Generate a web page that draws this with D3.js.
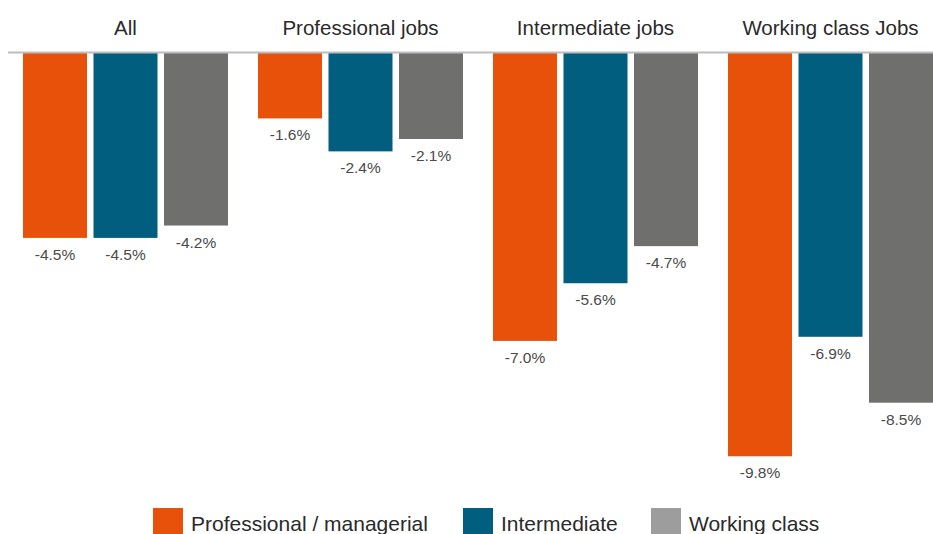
<!DOCTYPE html>
<html lang="en">
<head>
    <meta charset="UTF-8">
    <title>Change by job type</title>
    <style>
        body { margin: 0; background: #fff; }
        svg { display: block; font-family: "Liberation Sans", Arial, sans-serif; }
        .group-title { font-size: 20.5px; fill: #2a2a2a; text-anchor: middle; }
        .value-label { font-size: 15.5px; fill: #4a4a4a; text-anchor: middle; }
        .legend-text { font-size: 21px; fill: #2a2a2a; }
    </style>
    <script src="https://cdn.jsdelivr.net/npm/d3@7"></script>
</head>
<body>
<script>
    const groups = ["All", "Professional jobs", "Intermediate jobs", "Working class Jobs"];
    const series = ["Professional / managerial", "Intermediate", "Working class"];
    const barColors = ["#e8510a", "#025e7e", "#6f6f6d"];
    const legendColors = ["#e8510a", "#025e7e", "#9d9d9d"];

    // values in %, one array per series, in group order
    const professionalValues = [-4.5, -1.6, -7.0, -9.8];
    const intermediateValues = [-4.5, -2.4, -5.6, -6.9];
    const workingValues = [-4.2, -2.1, -4.7, -8.5];

    const width = 933, height = 534;
    const baseline = 52.5;

    const svg = d3.select("body").append("svg")
        .attr("width", width)
        .attr("height", height);

    const x0 = d3.scaleBand().domain(groups).range([8, 948]);
    const x1 = d3.scaleBand().domain(series).range([15, 220]).paddingInner(0.092);
    const y = d3.scaleLinear().domain([0, -10]).range([baseline, baseline + 412]);

    const rows = [];
    [professionalValues, intermediateValues, workingValues].forEach((vals, si) => {
        vals.forEach((v, gi) => rows.push({ group: groups[gi], series: series[si], si: si, value: v }));
    });

    // group titles
    svg.append("g").selectAll("text")
        .data(groups)
        .enter().append("text")
        .attr("class", "group-title")
        .attr("x", d => x0(d) + x0.bandwidth() / 2)
        .attr("y", 35)
        .text(d => d);

    // bars
    svg.append("g").selectAll("rect")
        .data(rows)
        .enter().append("rect")
        .attr("x", d => x0(d.group) + x1(d.series))
        .attr("y", y(0))
        .attr("width", x1.bandwidth())
        .attr("height", d => y(d.value) - y(0))
        .attr("fill", d => barColors[d.si]);

    // baseline
    svg.append("line")
        .attr("x1", 8).attr("x2", width)
        .attr("y1", y(0)).attr("y2", y(0))
        .attr("stroke", "#bdbdbd")
        .attr("stroke-width", 2);

    // value labels
    svg.append("g").selectAll("text")
        .data(rows)
        .enter().append("text")
        .attr("class", "value-label")
        .attr("x", d => x0(d.group) + x1(d.series) + x1.bandwidth() / 2)
        .attr("y", d => y(d.value) + 22)
        .text(d => d.value.toFixed(1) + "%");

    // legend
    const legendX = [153, 463, 651];
    const legend = svg.append("g").selectAll("g")
        .data(series)
        .enter().append("g")
        .attr("transform", (d, i) => `translate(${legendX[i]},508)`);
    legend.append("rect")
        .attr("width", 30).attr("height", 30)
        .attr("fill", (d, i) => legendColors[i]);
    legend.append("text")
        .attr("class", "legend-text")
        .attr("x", 38).attr("y", 23)
        .text(d => d);
</script>
</body>
</html>
